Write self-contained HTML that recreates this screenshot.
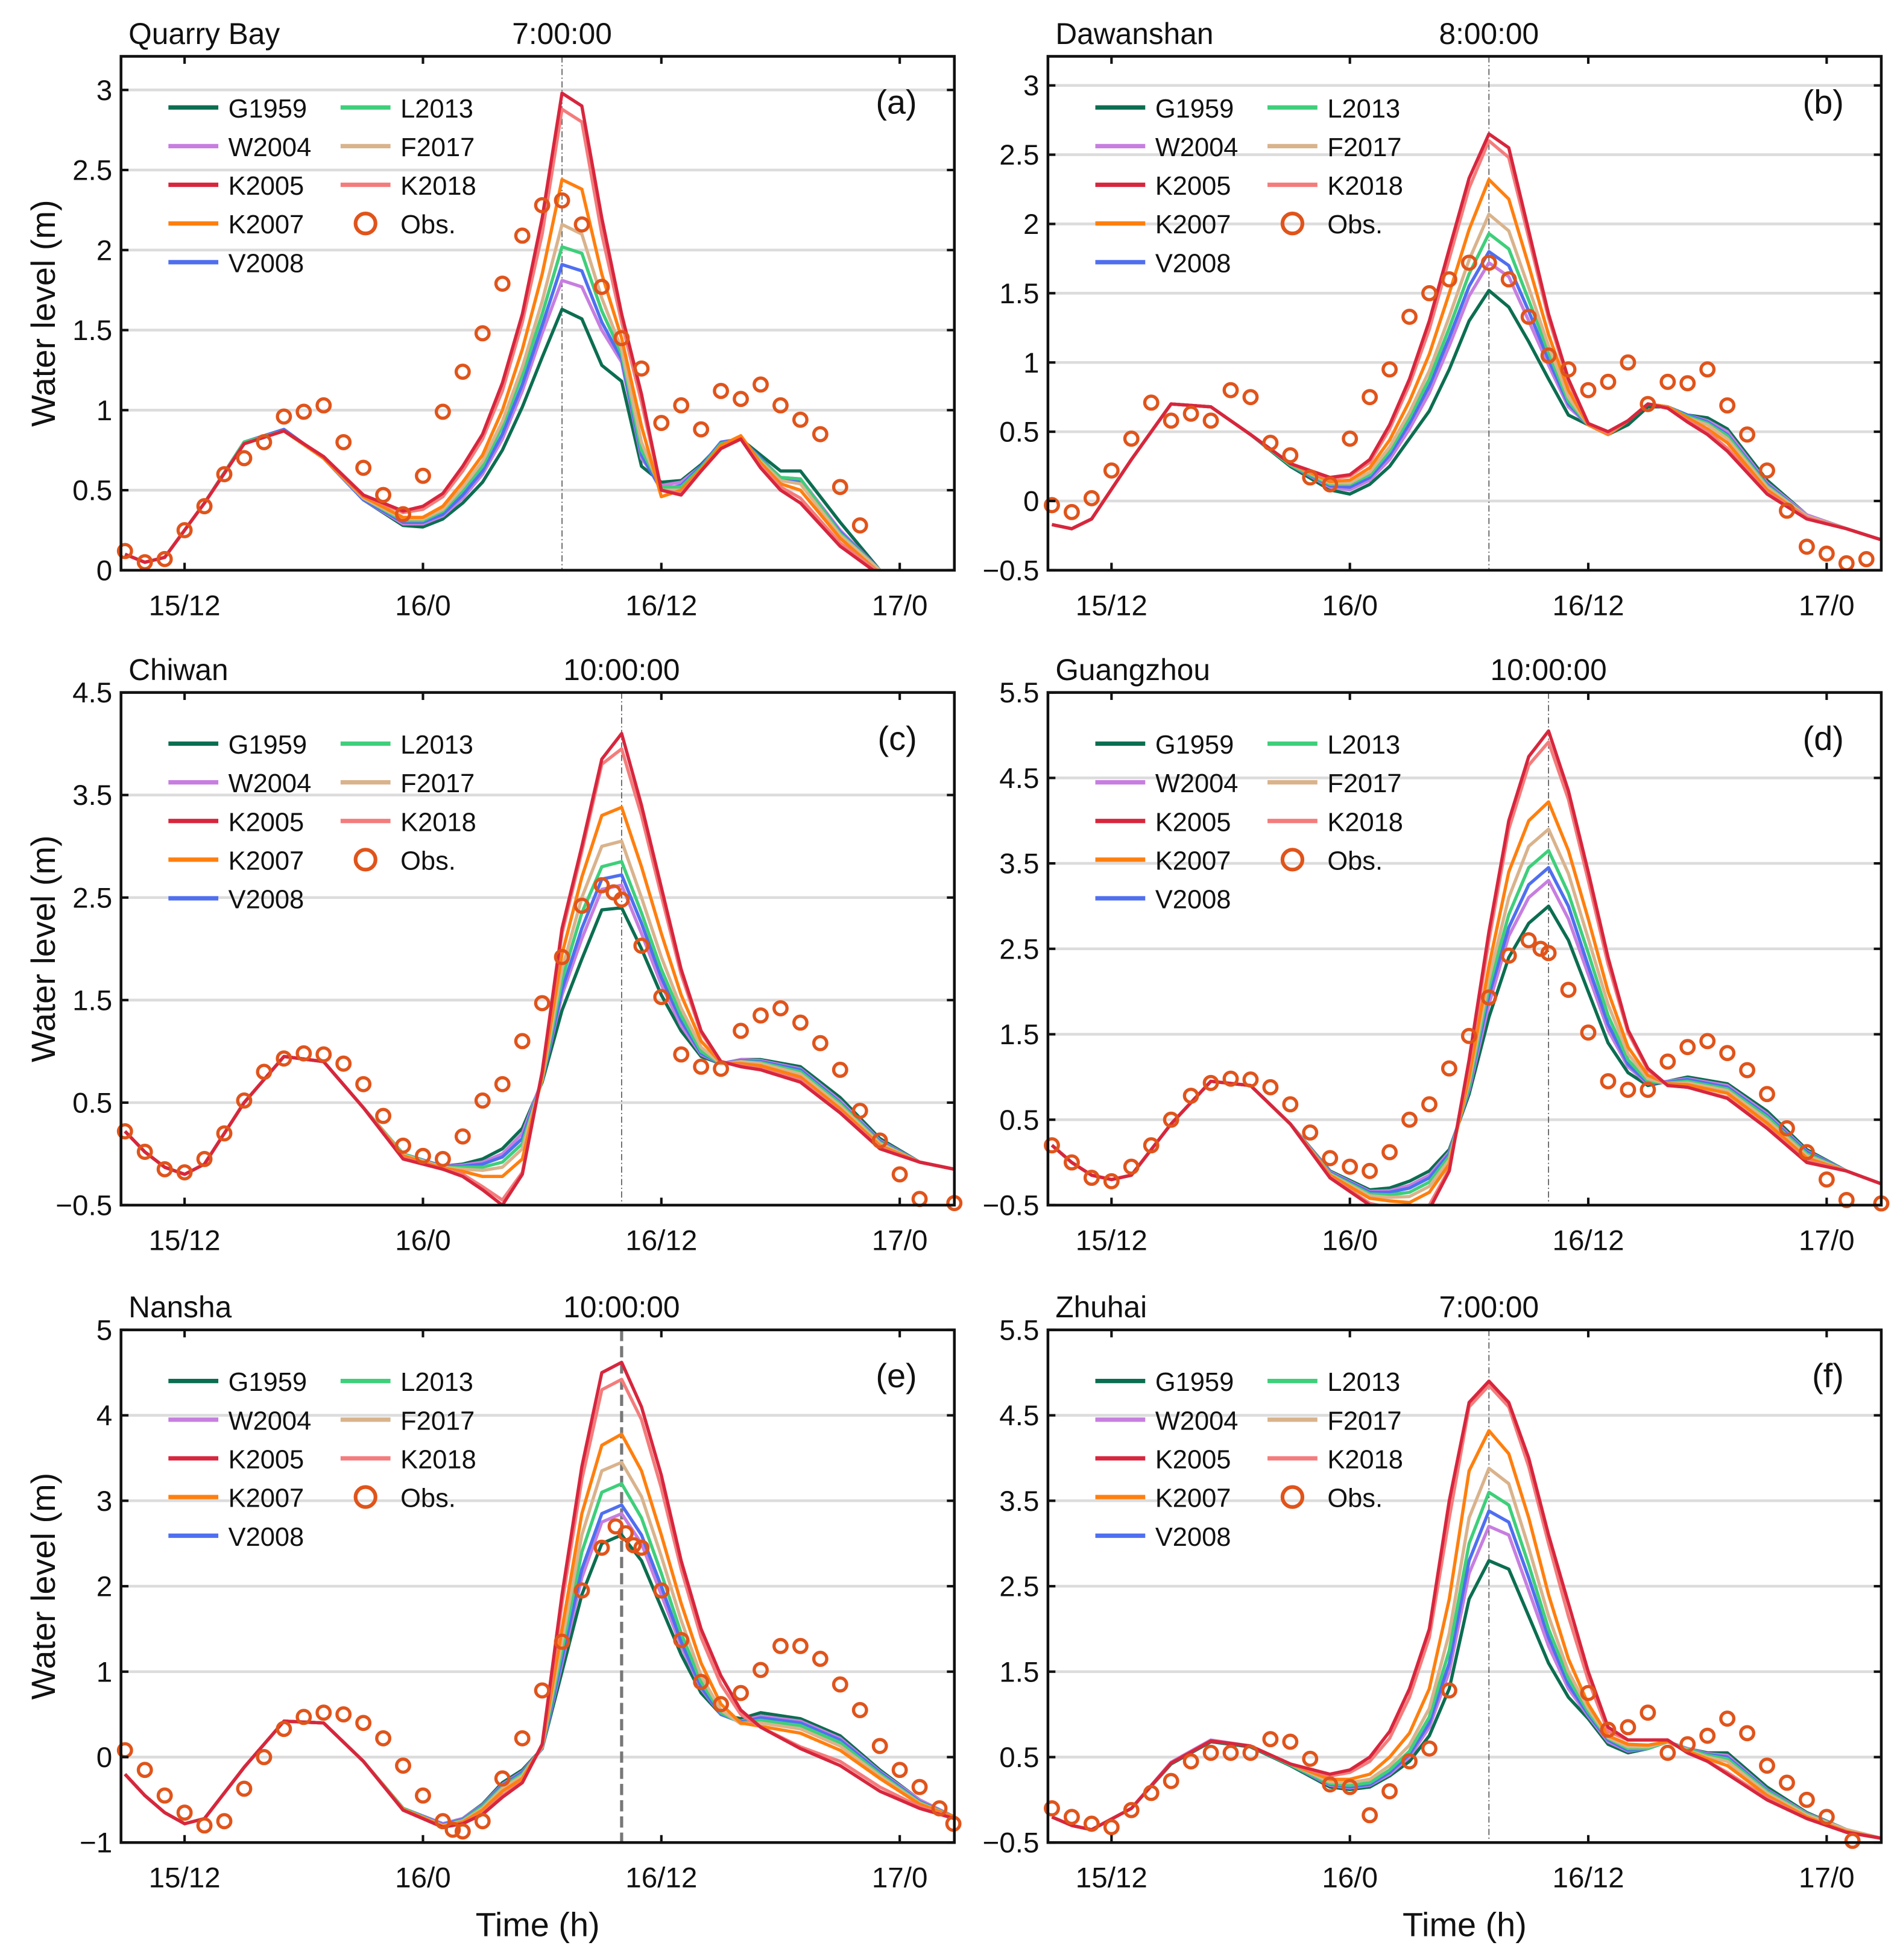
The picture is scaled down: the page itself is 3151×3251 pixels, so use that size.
<!DOCTYPE html>
<html><head><meta charset="utf-8"><style>
html,body{margin:0;padding:0;background:#fff}
svg{display:block}
text{font-family:"Liberation Sans",Arial,sans-serif;fill:#111}
</style></head><body>
<svg id="chart" width="3151" height="3251" viewBox="0 0 1523 1571" xmlns="http://www.w3.org/2000/svg"></svg>
<script>
const seriesNames=["G1959","W2004","K2005","K2007","V2008","L2013","F2017","K2018"];
const seriesColors=["#0b6e50","#c77ee0","#d7263d","#ff7f0e","#4f6ff0","#3ecf7a","#d9b38c","#f47c7c"];
const xTickValues=[12,24,36,48];
const xTickLabels=["15/12","16/0","16/12","17/0"];

// ---- panel a ----
const timesA=[9,10,11,13,15,17,19,21,23,24,25,26,27,28,29,30,31,32,33,34,35,36,37,38,39,40,41,42,43,45,47];
const a_G1959=[.10,.05,.08,.42,.80,.88,.70,.44,.28,.27,.32,.42,.55,.75,1.02,1.33,1.63,1.57,1.28,1.18,.65,.55,.56,.66,.79,.82,.72,.62,.62,.30,0];
const a_W2004=[.10,.05,.08,.42,.80,.88,.70,.44,.29,.29,.34,.45,.60,.82,1.12,1.48,1.81,1.77,1.50,1.30,.70,.53,.55,.65,.80,.82,.70,.58,.57,.25,0];
const a_K2005=[.10,.05,.08,.42,.79,.87,.71,.47,.37,.40,.48,.65,.85,1.17,1.60,2.20,2.98,2.90,2.20,1.60,1.10,.50,.47,.62,.76,.82,.64,.50,.42,.15,-.03];
const a_K2007=[.10,.05,.08,.42,.79,.87,.70,.46,.33,.33,.40,.55,.72,1.00,1.38,1.85,2.44,2.38,1.85,1.45,.90,.46,.50,.63,.78,.84,.67,.54,.50,.20,-.02];
const a_V2008=[.10,.05,.08,.42,.80,.88,.70,.44,.30,.30,.35,.47,.62,.85,1.16,1.53,1.91,1.87,1.55,1.32,.72,.50,.53,.65,.80,.82,.70,.57,.56,.24,0];
const a_L2013=[.10,.05,.08,.42,.80,.87,.70,.45,.31,.31,.37,.50,.65,.90,1.22,1.60,2.02,1.98,1.62,1.35,.75,.52,.52,.64,.79,.82,.69,.58,.57,.23,0];
const a_F2017=[.10,.05,.08,.42,.79,.87,.70,.45,.32,.32,.38,.52,.68,.93,1.27,1.68,2.16,2.10,1.70,1.38,.80,.50,.50,.63,.78,.82,.68,.56,.54,.22,0];
const a_K2018=[.10,.05,.08,.42,.79,.87,.71,.47,.36,.38,.46,.62,.82,1.12,1.55,2.10,2.88,2.80,2.10,1.55,1.05,.50,.48,.62,.76,.82,.65,.52,.45,.17,-.02];
const obsTimesA=[9,10,11,12,13,14,15,16,17,18,19,20,21,22,23,24,25,26,27,28,29,30,31,32,33,34,35,36,37,38,39,40,41,42,43,44,45,46];
const obsA=[.12,.05,.07,.25,.40,.60,.70,.80,.96,.99,1.03,.80,.64,.47,.35,.59,.99,1.24,1.48,1.79,2.09,2.28,2.31,2.16,1.77,1.45,1.26,.92,1.03,.88,1.12,1.07,1.16,1.03,.94,.85,.52,.28];

// ---- panel b ----
const timesB=[9,10,11,13,15,17,19,21,23,24,25,26,27,28,29,30,31,32,33,34,35,36,37,38,39,40,41,42,43,45,47,49,50.75];
const b_G1959=[-.17,-.20,-.13,.30,.70,.68,.48,.25,.08,.05,.12,.25,.45,.65,.95,1.30,1.52,1.40,1.15,.88,.62,.55,.48,.55,.68,.68,.62,.60,.52,.15,-.10,-.20,-.28];
const b_W2004=[-.17,-.20,-.13,.30,.70,.68,.48,.26,.10,.08,.15,.30,.52,.78,1.12,1.48,1.72,1.62,1.30,.98,.68,.55,.48,.58,.70,.68,.62,.58,.50,.13,-.10,-.20,-.28];
const b_K2005=[-.17,-.20,-.13,.30,.70,.68,.48,.27,.17,.19,.30,.55,.88,1.30,1.82,2.33,2.65,2.55,1.95,1.35,.88,.56,.50,.58,.70,.67,.57,.48,.36,.05,-.13,-.20,-.28];
const b_K2007=[-.17,-.20,-.13,.30,.70,.68,.48,.27,.14,.15,.24,.44,.72,1.06,1.50,1.96,2.32,2.18,1.70,1.20,.80,.55,.48,.58,.70,.68,.60,.52,.42,.08,-.12,-.20,-.28];
const b_V2008=[-.17,-.20,-.13,.30,.70,.68,.48,.26,.11,.10,.17,.33,.56,.83,1.18,1.55,1.80,1.70,1.37,1.02,.70,.55,.48,.58,.70,.68,.62,.57,.48,.12,-.11,-.20,-.28];
const b_L2013=[-.17,-.20,-.13,.30,.70,.68,.48,.26,.12,.12,.19,.36,.60,.88,1.25,1.64,1.93,1.82,1.45,1.07,.72,.55,.48,.58,.70,.68,.61,.56,.47,.11,-.11,-.20,-.28];
const b_F2017=[-.17,-.20,-.13,.30,.70,.68,.48,.27,.13,.13,.21,.39,.64,.94,1.33,1.74,2.07,1.95,1.54,1.12,.75,.55,.48,.58,.70,.68,.60,.55,.45,.10,-.11,-.20,-.28];
const b_K2018=[-.17,-.20,-.13,.30,.70,.68,.48,.27,.16,.18,.28,.52,.84,1.24,1.75,2.26,2.60,2.48,1.90,1.32,.86,.56,.49,.58,.70,.67,.58,.50,.38,.06,-.12,-.20,-.28];
const obsTimesB=[9,10,11,12,13,14,15,16,17,18,19,20,21,22,23,24,25,26,27,28,29,30,31,32,33,34,35,36,37,38,39,40,41,42,43,44,45,46,47,48,49,50];
const obsB=[-.03,-.08,.02,.22,.45,.71,.58,.63,.58,.80,.75,.42,.33,.17,.12,.45,.75,.95,1.33,1.50,1.60,1.72,1.72,1.60,1.33,1.05,.95,.80,.86,1.00,.70,.86,.85,.95,.69,.48,.22,-.07,-.33,-.38,-.45,-.42];

// ---- panel c ----
const timesC=[9,10,11,12,13,15,17,19,21,23,25,26,27,28,29,30,31,32,33,34,35,36,37,38,39,40,41,43,45,47,49,50.75];
const c_G1959=[.22,.02,-.13,-.20,-.10,.50,.95,.90,.45,0,-.12,-.10,-.05,.05,.25,.70,1.40,1.90,2.38,2.40,2.00,1.55,1.20,.95,.88,.92,.92,.85,.55,.15,-.08,-.15];
const c_W2004=[.22,.02,-.13,-.20,-.10,.50,.95,.90,.45,0,-.12,-.11,-.08,0,.20,.72,1.55,2.10,2.58,2.62,2.15,1.65,1.25,.97,.88,.92,.91,.83,.52,.13,-.08,-.15];
const c_K2005=[.22,.02,-.13,-.20,-.10,.50,.95,.90,.45,-.05,-.15,-.22,-.35,-.50,-.20,.80,2.20,3.00,3.85,4.10,3.40,2.60,1.80,1.20,.90,.85,.82,.70,.40,.05,-.08,-.15];
const c_K2007=[.22,.02,-.13,-.20,-.10,.50,.95,.90,.45,-.02,-.14,-.17,-.22,-.22,-.05,.75,1.95,2.70,3.30,3.38,2.80,2.15,1.55,1.10,.89,.88,.86,.75,.44,.08,-.08,-.15];
const c_V2008=[.22,.02,-.13,-.20,-.10,.50,.95,.90,.45,0,-.12,-.12,-.10,-.03,.15,.72,1.60,2.20,2.68,2.72,2.25,1.72,1.30,.98,.88,.91,.90,.82,.50,.12,-.08,-.15];
const c_L2013=[.22,.02,-.13,-.20,-.10,.50,.95,.90,.45,0,-.13,-.13,-.13,-.08,.10,.72,1.70,2.35,2.80,2.85,2.35,1.80,1.35,1.00,.88,.90,.89,.80,.49,.11,-.08,-.15];
const c_F2017=[.22,.02,-.13,-.20,-.10,.50,.95,.90,.45,-.01,-.13,-.15,-.16,-.13,.05,.73,1.80,2.50,3.00,3.05,2.50,1.92,1.42,1.04,.88,.90,.88,.78,.47,.10,-.08,-.15];
const c_K2018=[.22,.02,-.13,-.20,-.10,.50,.95,.90,.45,-.04,-.15,-.20,-.32,-.45,-.18,.80,2.15,2.95,3.80,3.95,3.30,2.52,1.75,1.18,.90,.86,.83,.72,.41,.06,-.08,-.15];
const obsTimesC=[9,10,11,12,13,14,15,16,17,18,19,20,21,22,23,24,25,26,27,28,29,30,31,32,33,33.6,34,35,36,37,38,39,40,41,42,43,44,45,46,47,48,49,50.75];
const obsC=[.22,.02,-.15,-.18,-.05,.20,.52,.80,.93,.98,.97,.88,.68,.37,.08,-.02,-.05,.17,.52,.68,1.10,1.47,1.92,2.42,2.62,2.55,2.48,2.03,1.53,.97,.85,.83,1.20,1.35,1.42,1.28,1.08,.82,.42,.13,-.20,-.44,-.48];

// ---- panel d ----
const timesD=[9,10,11,12,13,15,17,19,21,23,25,26,27,28,29,30,31,32,33,34,35,36,37,38,39,40,41,43,45,47,49,50.75];
const d_G1959=[.20,0,-.15,-.20,-.15,.45,.95,.90,.45,-.10,-.32,-.30,-.22,-.10,.15,.80,1.70,2.40,2.80,3.00,2.60,2.00,1.40,1.05,.90,.95,1.00,.92,.60,.15,-.10,-.25];
const d_W2004=[.20,0,-.15,-.20,-.15,.45,.95,.90,.45,-.11,-.34,-.33,-.27,-.15,.12,.85,1.85,2.65,3.10,3.30,2.85,2.20,1.55,1.12,.92,.95,.98,.90,.57,.13,-.10,-.25];
const d_K2005=[.20,0,-.15,-.20,-.15,.45,.95,.90,.45,-.18,-.50,-.55,-.65,-.55,-.10,1.20,2.70,4.00,4.75,5.05,4.35,3.40,2.40,1.55,1.10,.90,.88,.75,.40,0,-.10,-.25];
const d_K2007=[.20,0,-.15,-.20,-.15,.45,.95,.90,.45,-.15,-.42,-.45,-.47,-.35,-.02,1.00,2.30,3.40,4.00,4.22,3.65,2.85,2.00,1.35,1.02,.92,.91,.81,.46,.05,-.10,-.25];
const d_V2008=[.20,0,-.15,-.20,-.15,.45,.95,.90,.45,-.12,-.35,-.35,-.30,-.18,.10,.88,1.95,2.75,3.25,3.45,3.00,2.30,1.62,1.15,.93,.94,.97,.88,.55,.12,-.10,-.25];
const d_L2013=[.20,0,-.15,-.20,-.15,.45,.95,.90,.45,-.13,-.37,-.38,-.35,-.23,.07,.90,2.05,2.90,3.45,3.65,3.15,2.45,1.72,1.20,.95,.93,.95,.86,.53,.10,-.10,-.25];
const d_F2017=[.20,0,-.15,-.20,-.15,.45,.95,.90,.45,-.14,-.39,-.41,-.40,-.28,.03,.95,2.15,3.10,3.70,3.90,3.38,2.62,1.85,1.27,.98,.92,.93,.84,.50,.08,-.10,-.25];
const d_K2018=[.20,0,-.15,-.20,-.15,.45,.95,.90,.45,-.17,-.48,-.53,-.60,-.50,-.08,1.15,2.60,3.90,4.65,4.92,4.25,3.30,2.32,1.52,1.08,.90,.88,.76,.41,.02,-.10,-.25];
const obsTimesD=[9,10,11,12,13,14,15,16,17,18,19,20,21,22,23,24,25,26,27,28,29,30,31,32,33,33.6,34,35,36,37,38,39,40,41,42,43,44,45,46,47,48,49,50.75];
const obsD=[.20,0,-.18,-.22,-.05,.20,.50,.78,.93,.98,.97,.88,.68,.35,.05,-.05,-.10,.12,.50,.68,1.10,1.48,1.93,2.42,2.60,2.50,2.45,2.02,1.52,.95,.85,.85,1.18,1.35,1.42,1.28,1.08,.80,.40,.12,-.20,-.44,-.48];

// ---- panel e ----
const timesE=[9,10,11,12,13,15,17,19,21,23,25,26,27,28,29,30,31,32,33,34,35,36,37,38,39,40,41,43,45,47,49,50.75];
const e_G1959=[-.20,-.45,-.65,-.78,-.72,-.12,.42,.40,-.05,-.60,-.78,-.72,-.55,-.30,-.15,.10,1.00,1.90,2.50,2.60,2.30,1.75,1.20,.75,.50,.45,.52,.45,.25,-.15,-.50,-.70];
const e_W2004=[-.20,-.45,-.65,-.78,-.72,-.12,.42,.40,-.05,-.60,-.78,-.72,-.56,-.32,-.17,.10,1.10,2.10,2.75,2.85,2.50,1.90,1.30,.80,.50,.42,.48,.42,.22,-.17,-.50,-.70];
const e_K2005=[-.20,-.45,-.65,-.78,-.72,-.12,.42,.40,-.05,-.62,-.82,-.78,-.67,-.47,-.30,.15,1.90,3.40,4.50,4.62,4.10,3.30,2.30,1.50,.95,.55,.35,.10,-.10,-.40,-.60,-.72];
const e_K2007=[-.20,-.45,-.65,-.78,-.72,-.12,.42,.40,-.05,-.61,-.81,-.76,-.62,-.40,-.25,.13,1.50,2.85,3.65,3.78,3.35,2.60,1.80,1.10,.62,.40,.36,.28,.08,-.25,-.55,-.70];
const e_V2008=[-.20,-.45,-.65,-.78,-.72,-.12,.42,.40,-.05,-.60,-.79,-.73,-.57,-.33,-.18,.10,1.15,2.20,2.85,2.95,2.60,2.00,1.35,.82,.50,.41,.46,.40,.20,-.18,-.52,-.70];
const e_L2013=[-.20,-.45,-.65,-.78,-.72,-.12,.42,.40,-.05,-.60,-.80,-.74,-.58,-.35,-.20,.11,1.25,2.40,3.10,3.20,2.80,2.15,1.45,.88,.52,.40,.43,.37,.17,-.20,-.53,-.70];
const e_F2017=[-.20,-.45,-.65,-.78,-.72,-.12,.42,.40,-.05,-.61,-.80,-.75,-.60,-.37,-.22,.12,1.35,2.60,3.35,3.45,3.05,2.35,1.60,.95,.55,.39,.40,.33,.13,-.22,-.54,-.70];
const e_K2018=[-.20,-.45,-.65,-.78,-.72,-.12,.42,.40,-.05,-.62,-.82,-.78,-.66,-.45,-.29,.14,1.80,3.25,4.30,4.42,3.95,3.15,2.20,1.40,.85,.50,.35,.12,-.05,-.35,-.58,-.72];
const obsTimesE=[9,10,11,12,13,14,15,16,17,18,19,20,21,22,23,24,25,25.5,26,27,28,29,30,31,32,33,33.7,34.2,34.6,35,36,37,38,39,40,41,42,43,44,45,46,47,48,49,50,50.7];
const obsE=[.08,-.15,-.45,-.65,-.80,-.75,-.37,0,.33,.47,.52,.50,.40,.22,-.10,-.45,-.75,-.85,-.87,-.75,-.25,.22,.78,1.35,1.95,2.45,2.70,2.62,2.48,2.45,1.95,1.37,.88,.62,.75,1.02,1.30,1.30,1.15,.85,.55,.13,-.15,-.35,-.60,-.78];

// ---- panel f ----
const timesF=[9,10,11,13,15,17,19,21,23,24,25,26,27,28,29,30,31,32,33,34,35,36,37,38,39,40,41,42,43,45,47,49,50.75];
const f_G1959=[-.20,-.30,-.35,-.10,.42,.68,.62,.40,.15,.12,.15,.28,.45,.75,1.30,2.35,2.80,2.70,2.15,1.60,1.20,.95,.65,.55,.60,.68,.60,.55,.55,.15,-.15,-.35,-.45];
const f_W2004=[-.20,-.30,-.35,-.10,.44,.70,.63,.41,.17,.14,.17,.30,.50,.85,1.50,2.65,3.20,3.10,2.45,1.80,1.30,.98,.68,.57,.60,.68,.60,.54,.52,.12,-.16,-.35,-.45];
const f_K2005=[-.20,-.30,-.35,-.10,.43,.69,.63,.42,.30,.35,.50,.80,1.30,2.00,3.50,4.65,4.90,4.65,4.00,3.10,2.30,1.50,.85,.70,.70,.70,.55,.45,.30,0,-.22,-.38,-.45];
const f_K2007=[-.20,-.30,-.35,-.10,.43,.69,.63,.42,.24,.24,.30,.50,.78,1.30,2.35,3.85,4.32,4.05,3.30,2.40,1.65,1.12,.75,.65,.64,.68,.57,.48,.40,.05,-.20,-.37,-.45];
const f_V2008=[-.20,-.30,-.35,-.10,.43,.69,.63,.41,.18,.15,.18,.32,.53,.90,1.60,2.80,3.38,3.25,2.60,1.90,1.35,1.00,.70,.58,.60,.68,.59,.53,.50,.11,-.17,-.35,-.45];
const f_L2013=[-.20,-.30,-.35,-.10,.43,.69,.63,.41,.19,.17,.20,.35,.57,.97,1.75,3.00,3.60,3.45,2.75,2.00,1.42,1.03,.72,.60,.60,.68,.59,.52,.48,.10,-.17,-.35,-.45];
const f_F2017=[-.20,-.30,-.35,-.10,.43,.69,.63,.42,.21,.20,.24,.40,.64,1.07,1.95,3.30,3.88,3.70,2.95,2.15,1.50,1.07,.73,.62,.62,.68,.58,.50,.45,.08,-.18,-.35,-.45];
const f_K2018=[-.20,-.30,-.35,-.10,.43,.69,.63,.42,.28,.32,.45,.72,1.20,1.90,3.30,4.60,4.85,4.60,3.90,3.00,2.15,1.40,.80,.70,.70,.70,.55,.45,.32,.02,-.22,-.38,-.45];
const obsTimesF=[9,10,11,12,13,14,15,16,17,18,19,20,21,22,23,24,25,26,27,28,29,36,37,38,39,40,41,42,43,44,45,46,47,48,49.3];
const obsF=[-.10,-.20,-.28,-.32,-.12,.08,.22,.45,.55,.55,.55,.71,.68,.48,.18,.15,-.18,.10,.45,.60,1.28,1.25,.82,.85,1.02,.55,.65,.75,.95,.78,.40,.20,0,-.20,-.48];

const panelTitles=["Quarry Bay","Dawanshan","Chiwan","Guangzhou","Nansha","Zhuhai"];
const panelTimes=["7:00:00","8:00:00","10:00:00","10:00:00","10:00:00","7:00:00"];
const panelLetters=["(a)","(b)","(c)","(d)","(e)","(f)"];
const peakLineTimes=[31,31,34,34,34,31];
const yTicksA=[0,0.5,1,1.5,2,2.5,3];
const yTicksB=[-0.5,0,0.5,1,1.5,2,2.5,3];
const yTicksC=[-0.5,0.5,1.5,2.5,3.5,4.5];
const yTicksD=[-0.5,0.5,1.5,2.5,3.5,4.5,5.5];
const yTicksE=[-1,0,1,2,3,4,5];
const yTicksF=[-0.5,0.5,1.5,2.5,3.5,4.5,5.5];

const NS="http://www.w3.org/2000/svg";
const svg=document.getElementById('chart');
function mk(tag,attrs,parent){const e=document.createElementNS(NS,tag);for(const k in attrs)e.setAttribute(k,attrs[k]);(parent||svg).appendChild(e);return e;}
function fmt(v){return (v<0?"\u2212":"")+String(Math.abs(v));}

const panels=[
 {x0:97,x1:765,y0:45,y1:457,ymin:0,ymax:3.21,ticks:yTicksA,times:timesA,series:[a_G1959,a_W2004,a_K2005,a_K2007,a_V2008,a_L2013,a_F2017,a_K2018],ot:obsTimesA,ov:obsA,dashed:false},
 {x0:840,x1:1508,y0:45,y1:457,ymin:-0.5,ymax:3.21,ticks:yTicksB,times:timesB,series:[b_G1959,b_W2004,b_K2005,b_K2007,b_V2008,b_L2013,b_F2017,b_K2018],ot:obsTimesB,ov:obsB,dashed:false},
 {x0:97,x1:765,y0:555,y1:966,ymin:-0.5,ymax:4.5,ticks:yTicksC,times:timesC,series:[c_G1959,c_W2004,c_K2005,c_K2007,c_V2008,c_L2013,c_F2017,c_K2018],ot:obsTimesC,ov:obsC,dashed:false},
 {x0:840,x1:1508,y0:555,y1:966,ymin:-0.5,ymax:5.5,ticks:yTicksD,times:timesD,series:[d_G1959,d_W2004,d_K2005,d_K2007,d_V2008,d_L2013,d_F2017,d_K2018],ot:obsTimesD,ov:obsD,dashed:false},
 {x0:97,x1:765,y0:1066,y1:1477,ymin:-1,ymax:5,ticks:yTicksE,times:timesE,series:[e_G1959,e_W2004,e_K2005,e_K2007,e_V2008,e_L2013,e_F2017,e_K2018],ot:obsTimesE,ov:obsE,dashed:true},
 {x0:840,x1:1508,y0:1066,y1:1477,ymin:-0.5,ymax:5.5,ticks:yTicksF,times:timesF,series:[f_G1959,f_W2004,f_K2005,f_K2007,f_V2008,f_L2013,f_F2017,f_K2018],ot:obsTimesF,ov:obsF,dashed:false}
];
const T0=8.8,T1=50.75;
const drawOrder=[0,1,4,5,6,3,7,2];

panels.forEach((p,i)=>{
  const g=mk('g',{});
  
  
  const xs=t=>p.x0+(t-T0)/(T1-T0)*(p.x1-p.x0);
  const ys=v=>p.y1-(v-p.ymin)/(p.ymax-p.ymin)*(p.y1-p.y0);
  const cid='clip'+i;
  const cp=mk('clipPath',{id:cid},g);
  mk('rect',{x:p.x0,y:p.y0,width:p.x1-p.x0,height:p.y1-p.y0},cp);
  // grid
  p.ticks.forEach(v=>{
    const y=ys(v);
    if(y<p.y1-2&&y>p.y0+2){const gl=mk('line',{x1:p.x0,x2:p.x1,y1:y,y2:y,stroke:'#dcdcdc','stroke-width':2.2},g);
      }
  });
  // peak line
  const px=xs(peakLineTimes[i]);
  const pl=mk('line',{x1:px,x2:px,y1:p.y0,y2:p.y1,stroke:p.dashed?'#777':'#555','stroke-width':p.dashed?2.5:0.8,'stroke-dasharray':p.dashed?'9,4':'5,2,1,2'},g);
  
  // series
  const sg=mk('g',{'clip-path':'url(#'+cid+')'},g);
  drawOrder.forEach(si=>{
    const vals=p.series[si];
    const d=p.times.map((t,k)=>(k?'L':'M')+xs(t).toFixed(1)+','+ys(vals[k]).toFixed(1)).join('');
    const path=mk('path',{d:d,fill:'none',stroke:seriesColors[si],'stroke-width':2.6,'stroke-linejoin':'round'},sg);
    
    
  });
  p.ot.forEach((t,k)=>{
    const c=mk('circle',{cx:xs(t),cy:ys(p.ov[k]),r:5.2,fill:'none',stroke:'#e0541b','stroke-width':2.6},g);
    
  });
  // frame
  const fr=mk('rect',{x:p.x0,y:p.y0,width:p.x1-p.x0,height:p.y1-p.y0,fill:'none',stroke:'#111','stroke-width':2.2},g);
  
  // y ticks
  p.ticks.forEach(v=>{
    const y=ys(v);
    mk('line',{x1:p.x0,x2:p.x0+6,y1:y,y2:y,stroke:'#111','stroke-width':2},g);
    mk('line',{x1:p.x1,x2:p.x1-6,y1:y,y2:y,stroke:'#111','stroke-width':2},g);
    const tx=mk('text',{x:p.x0-7,y:y+8,'text-anchor':'end','font-size':23},g);
    tx.textContent=fmt(v);
    
  });
  xTickValues.forEach((t,k)=>{
    const x=xs(t);
    mk('line',{x1:x,x2:x,y1:p.y1,y2:p.y1-6,stroke:'#111','stroke-width':2},g);
    mk('line',{x1:x,x2:x,y1:p.y0,y2:p.y0+6,stroke:'#111','stroke-width':2},g);
    const tx=mk('text',{x:x,y:p.y1+36,'text-anchor':'middle','font-size':23},g);
    tx.textContent=xTickLabels[k];
    
  });
  const tt=mk('text',{x:p.x0+6,y:p.y0-10,'font-size':24},g);tt.textContent=panelTitles[i];
  
  const tm=mk('text',{x:px,y:p.y0-10,'text-anchor':'middle','font-size':24},g);tm.textContent=panelTimes[i];
  
  const lt=mk('text',{x:p.x1-30,y:p.y0+46,'text-anchor':'end','font-size':27},g);lt.textContent=panelLetters[i];
  
  // legend
  const lg=mk('g',{},g);
  
  const cols=[0,1,2,3,4,5,6,7];
  cols.forEach(si=>{
    const col=si<5?0:1, row=si<5?si:si-5;
    const lx=p.x0+38+col*138, ly=p.y0+41+row*31;
    mk('line',{x1:lx,x2:lx+40,y1:ly,y2:ly,stroke:seriesColors[si],'stroke-width':3.5},lg);
    const tx=mk('text',{x:lx+48,y:ly+8,'font-size':21},lg);tx.textContent=seriesNames[si];
    
  });
  const ox=p.x0+38+138+20, oy=p.y0+41+3*31;
  mk('circle',{cx:ox,cy:oy,r:8,fill:'none',stroke:'#e0541b','stroke-width':3},lg);
  const otx=mk('text',{x:p.x0+38+138+48,y:oy+8,'font-size':21},lg);otx.textContent="Obs.";
  
  if(i%2===0){
    const yt=mk('text',{x:0,y:0,'font-size':27,'text-anchor':'middle',transform:'translate(44,'+((p.y0+p.y1)/2)+') rotate(-90)'},g);
    yt.textContent="Water level (m)";
    
  }
  if(i>=4){
    const xt=mk('text',{x:(p.x0+p.x1)/2,y:1552,'font-size':27,'text-anchor':'middle'},g);
    xt.textContent="Time (h)";
    
  }
});
</script>
</body></html>
